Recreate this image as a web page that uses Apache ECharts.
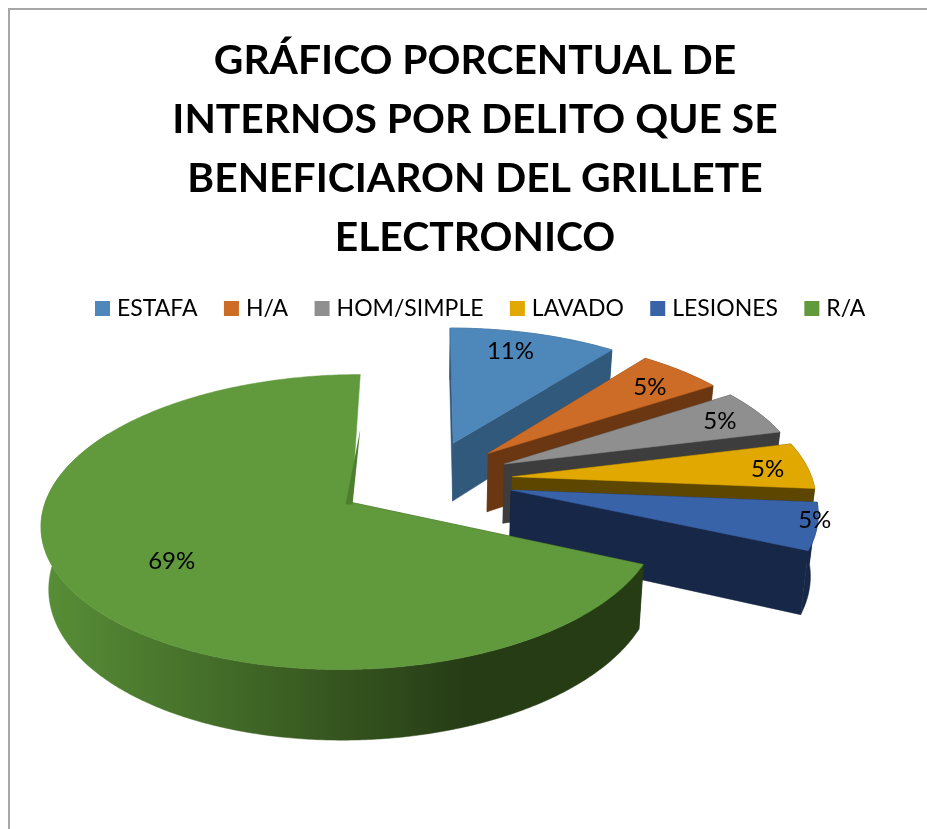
<!DOCTYPE html>
<html>
<head>
<meta charset="utf-8">
<style>html,body{margin:0;padding:0;background:#fff;}#c{width:927px;height:829px;}</style>
<script src="https://cdn.jsdelivr.net/npm/echarts@6/dist/echarts.min.js"></script>
</head>
<body>
<div id="c"></div>
<script>
var titleText = 'GRÁFICO PORCENTUAL DE\nINTERNOS POR DELITO QUE SE\nBENEFICIARON DEL GRILLETE\nELECTRONICO';
var categories = ['ESTAFA', 'H/A', 'HOM/SIMPLE', 'LAVADO', 'LESIONES', 'R/A'];
var values = [10.5, 5.3, 5.3, 5.3, 5.3, 68.5];

var topColors = ['#4e87ba', '#cc6c27', '#8f8f8f', '#e0a800', '#3963a9', '#609a3c'];
var wallColors = ['#31597c', '#6b3713', '#3d3d3d', '#5d4600', '#172747', '#263c15'];

// layout of the tilted, exploded pie
var CX = 426, CY = 480, RX = 300, KY = 139, PERSP = 0.13, EXPLODE = 0.29, DEPTH = 60, BOTTOM_SCALE = 0.98;
var labelRadius = 0.75;
var labelNudge = [[-5, -7], [14, -3], [23, -4], [34, 1], [76, 3], [28, -4]];

var total = values.reduce(function (a, b) { return a + b; }, 0);

function project(u, v, bottom) {
  var d = 1 - PERSP * v;
  var x = RX * u / d, y = KY * v / d;
  if (bottom) { x *= BOTTOM_SCALE; y += DEPTH / d; }
  return [CX + x, CY + y];
}

function sliceRender(index) {
  return function () {
    var before = 0;
    for (var i = 0; i < index; i++) before += values[i];
    var a0 = before / total * 360;
    var a1 = (before + values[index]) / total * 360;
    var isLast = index === values.length - 1;
    var mid = (a0 + a1) / 2 * Math.PI / 180;
    var ox = EXPLODE * Math.sin(mid), oy = -EXPLODE * Math.cos(mid);
    function at(deg, r, bottom) {
      var t = deg * Math.PI / 180;
      return project(ox + r * Math.sin(t), oy - r * Math.cos(t), bottom);
    }
    var topArc = [], botArc = [];
    var n = Math.ceil(a1 - a0) * 2;
    for (var k = 0; k <= n; k++) {
      var deg = a0 + (a1 - a0) * k / n;
      topArc.push(at(deg, 1, false));
      botArc.push(at(deg, 1, true));
    }
    var apex = at(0, 0, false), apexB = at(0, 0, true);
    var wall = wallColors[index];
    var arcFill = wall, wallEnd = n;
    if (isLast) {
      arcFill = { type: 'linear', x: 50, y: 0, x2: 466, y2: 0, global: true,
        colorStops: [{ offset: 0, color: '#578d36' }, { offset: 1, color: wall }] };
      // the back of the big slice is hidden by its own top face
      wallEnd = Math.round(n * (300 - a0) / (a1 - a0));
    }
    var kids = [];
    kids.push({ type: 'polygon', shape: { points: topArc.slice(0, wallEnd + 1).concat(botArc.slice(0, wallEnd + 1).reverse()) },
      style: { fill: arcFill, stroke: arcFill, lineWidth: 0.5 } });
    kids.push({ type: 'polygon', shape: { points: [apex, topArc[0], botArc[0], apexB] },
      style: { fill: wall, stroke: wall, lineWidth: 0.5 } });
    if (!isLast) {
      kids.push({ type: 'polygon', shape: { points: [apex, topArc[n], botArc[n], apexB] },
        style: { fill: wall, stroke: wall, lineWidth: 0.5 } });
    }
    kids.push({ type: 'polygon', shape: { points: [apex].concat(topArc) },
      style: { fill: topColors[index], stroke: topColors[index], lineWidth: 0.5 } });
    if (isLast) {
      // thin visible sliver of the cut face next to the notch
      kids.push({ type: 'polygon', shape: { points: [[apex[0] - 6, apex[1] + 2], [apex[0] + 1, apex[1] + 2], [topArc[n][0], topArc[n][1] + 55]] },
        style: { fill: '#4d7f2f' } });
    }
    var lp = at((a0 + a1) / 2, labelRadius, false);
    kids.push({ type: 'text', style: {
      text: Math.round(values[index]) + '%',
      x: lp[0] + labelNudge[index][0], y: lp[1] + labelNudge[index][1],
      fill: '#000', font: '24px Lato', align: 'center', verticalAlign: 'middle' } });
    return { type: 'group', children: kids };
  };
}

var series = categories.map(function (name, i) {
  return {
    type: 'custom', name: name, coordinateSystem: 'none', silent: true,
    data: [values[i]], itemStyle: { color: topColors[i] },
    renderItem: sliceRender(i), animation: false
  };
});

var chart = echarts.init(document.getElementById('c'), null, { renderer: 'canvas' });
chart.setOption({
  animation: false,
  backgroundColor: '#fff',
  graphic: [{ type: 'rect', silent: true, shape: { x: 9, y: 9, width: 1000, height: 1000 },
    style: { fill: 'none', stroke: '#a6a6a6', lineWidth: 2 } }],
  title: {
    text: titleText, left: 470, top: 26, textAlign: 'center',
    textStyle: { fontFamily: 'Lato', fontWeight: 'bold', fontSize: 40.8, lineHeight: 59, color: '#000' }
  },
  legend: {
    data: categories, left: 90, top: 292, icon: 'rect', itemWidth: 15, itemHeight: 15, itemGap: 26.4,
    textStyle: { fontFamily: 'Lato', fontSize: 23, color: '#000', padding: [0, 0, 0, 2] }
  },
  series: series
});
</script>
</body>
</html>
